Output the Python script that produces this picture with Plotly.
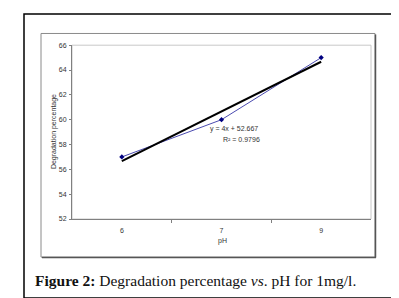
import numpy as np
import plotly.graph_objects as go

# ---- data ----
ph_labels = ["6", "7", "9"]
degradation = [57, 60, 65]
y_ticks = [52, 54, 56, 58, 60, 62, 64, 66]

W, H = 399, 298
def px(x): return x / W
def py(y): return 1 - y / H

xi = np.arange(len(ph_labels))
# linear trendline on category index (1..n), as in Excel
slope, intercept = np.polyfit(xi + 1, degradation, 1)
trend = slope * (xi + 1) + intercept
pred = np.array(trend)
obs = np.array(degradation, dtype=float)
r2 = 1 - ((obs - pred) ** 2).sum() / ((obs - obs.mean()) ** 2).sum()

fig = go.Figure()
fig.add_trace(go.Scatter(x=xi, y=degradation, mode="lines",
                         line=dict(color="#4b4bb0", width=1), hoverinfo="skip"))
fig.add_trace(go.Scatter(x=xi, y=trend, mode="lines",
                         line=dict(color="#000000", width=2), hoverinfo="skip"))
fig.add_trace(go.Scatter(x=xi, y=degradation, mode="markers",
                         marker=dict(symbol="diamond", size=4, color="#000080"),
                         hoverinfo="skip"))

axfont = dict(family="Liberation Sans, Arial", size=7, color="#333333")

fig.update_layout(
    width=W, height=H, margin=dict(l=0, r=0, t=0, b=0),
    paper_bgcolor="white", plot_bgcolor="white", showlegend=False,
    xaxis=dict(domain=[px(64), px(363)], range=[-0.5, 2.5],
               tickmode="array", tickvals=list(xi), ticktext=ph_labels,
               ticks="", showgrid=False, zeroline=False,
               showline=True, linecolor="#808080", linewidth=1,
               tickfont=axfont, ticklabelstandoff=5,
               minor=dict(tickmode="array", tickvals=[0.5, 1.5], ticks="outside",
                          ticklen=3, tickcolor="#808080", showgrid=False)),
    yaxis=dict(domain=[py(212), py(34)], range=[52, 66],
               tickmode="array", tickvals=y_ticks,
               ticks="outside", ticklen=2, tickcolor="#808080",
               showgrid=False, zeroline=False,
               showline=True, linecolor="#808080", linewidth=1,
               tickfont=axfont, ticklabelstandoff=1),
)

shapes = []
# outer black frame
shapes.append(dict(type="rect", xref="paper", yref="paper",
                   x0=px(16), x1=px(389), y0=py(293), y1=py(2),
                   line=dict(color="#000000", width=1.5), layer="below"))
# chart area frame
shapes.append(dict(type="rect", xref="paper", yref="paper",
                   x0=px(33), x1=px(367), y0=py(251), y1=py(22),
                   line=dict(color="#8a8a8a", width=1), layer="below"))
# chart area shadow (right / bottom)
shapes.append(dict(type="line", xref="paper", yref="paper",
                   x0=px(367.5), x1=px(367.5), y0=py(251.5), y1=py(23),
                   line=dict(color="#555555", width=1.5), layer="below"))
shapes.append(dict(type="line", xref="paper", yref="paper",
                   x0=px(34), x1=px(368), y0=py(251.5), y1=py(251.5),
                   line=dict(color="#555555", width=1.5), layer="below"))
# plot area light border (top / right)
shapes.append(dict(type="rect", xref="paper", yref="paper",
                   x0=px(64), x1=px(363), y0=py(212), y1=py(34),
                   line=dict(color="#c8c8c8", width=1), layer="below"))
fig.update_layout(shapes=shapes)

fig.add_annotation(xref="paper", yref="paper", x=px(46), y=py(123),
                   text="Degradation percentage", textangle=-90, showarrow=False,
                   font=axfont, xanchor="center", yanchor="middle")
fig.add_annotation(xref="paper", yref="paper", x=px(214), y=py(235),
                   text="pH", showarrow=False, font=axfont,
                   xanchor="center", yanchor="middle")
fig.add_annotation(xref="paper", yref="paper", x=px(252), y=py(120),
                   text=f"y = {slope:.0f}x + {intercept:.3f}", showarrow=False,
                   font=axfont, xanchor="right", yanchor="middle")
fig.add_annotation(xref="paper", yref="paper", x=px(254), y=py(131),
                   text=f"R² = {r2:.4f}", showarrow=False,
                   font=axfont, xanchor="right", yanchor="middle")
fig.add_annotation(xref="paper", yref="paper", x=px(25), y=py(275),
                   text="<b>Figure 2:</b> Degradation percentage <i>vs</i>. pH for 1mg/l.",
                   showarrow=False, xanchor="left", yanchor="middle",
                   font=dict(family="Liberation Serif, Times New Roman", size=15.5, color="#111111"))

fig.write_html("out.html")
